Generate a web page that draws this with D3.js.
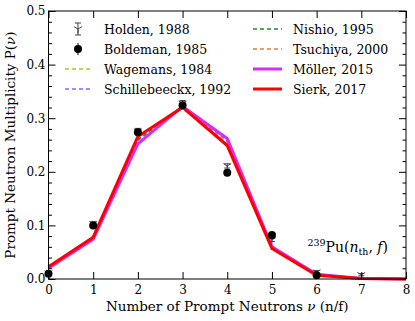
<!DOCTYPE html>
<html><head><meta charset="utf-8">
<script src="https://cdn.jsdelivr.net/npm/d3@7"></script>
<style>body{margin:0;background:#fff}svg{display:block}</style>
</head><body><svg id="c" width="415" height="321"></svg>
<script>
const nu = [0,1,2,3,4,5,6,7,8];
const holdenNu = [0,1,2,3,4,5,6,7];
const holden = [0.011,0.103,0.276,0.328,0.211,0.073,0.013,0.008];
const holdenErr = [0.003,0.004,0.005,0.005,0.004,0.003,0.003,0.002];
const boldemanNu = [0,1,2,3,4,5,6];
const boldeman = [0.010,0.100,0.274,0.324,0.198,0.082,0.007];
const boldemanErr = [0.002,0.003,0.004,0.004,0.004,0.003,0.002];
const wagemans = [0.022,0.077,0.262,0.322,0.255,0.058,0.008,0.001,0];
const schillebeeckx = [0.021,0.076,0.258,0.323,0.258,0.059,0.008,0.001,0];
const nishio = [0.022,0.077,0.260,0.322,0.262,0.058,0.008,0.001,0];
const tsuchiya = [0.023,0.078,0.264,0.322,0.252,0.058,0.008,0.001,0];
const moller = [0.020,0.074,0.252,0.322,0.262,0.060,0.009,0.001,0];
const sierk = [0.023,0.078,0.266,0.320,0.249,0.057,0.007,0.001,0];
const xTicks = [0,1,2,3,4,5,6,7,8];
const yTicks = [0.0,0.1,0.2,0.3,0.4,0.5];

const FF = '"DejaVu Serif"';
function ff(sel,size){return sel.style("font-family",FF).attr("font-family","DejaVu Serif").style("font-size",size+"px").style("fill","#000");}
const svg = d3.select("#c");
const L=48.5,R=406,T=11,B=279;
const x = d3.scaleLinear().domain([0,8]).range([L,R]);
const y = d3.scaleLinear().domain([0,0.5]).range([B,T]);

const line = d3.line().x((d,i)=>x(nu[i])).y(d=>y(d));
const dashed = [
 {data:wagemans,color:"#bcbd22"},
 {data:schillebeeckx,color:"#9a5ef0"},
 {data:nishio,color:"#1f8c1f"},
 {data:tsuchiya,color:"#dd8333"}
];
dashed.forEach(s=>svg.append("path").attr("d",line(s.data)).attr("fill","none")
  .attr("stroke",s.color).attr("stroke-width",1.5).attr("stroke-dasharray","4,3"));
svg.append("path").attr("d",line(moller)).attr("fill","none").attr("stroke","#d42bff").attr("stroke-width",3);
svg.append("path").attr("d",line(sierk)).attr("fill","none").attr("stroke","#ff0000").attr("stroke-width",3);

function triDown(g,cx,cy,r,col){
  const a=0.866*r,b=0.5*r;
  g.append("path").attr("d",`M${cx},${cy}L${cx},${cy+r}M${cx},${cy}L${cx-a},${cy-b}M${cx},${cy}L${cx+a},${cy-b}`)
   .attr("stroke",col).attr("stroke-width",1).attr("fill","none");
}
function errbar(g,cx,y1,y2,col,cap){
  g.append("path").attr("d",`M${cx},${y1}L${cx},${y2}M${cx-cap},${y1}L${cx+cap},${y1}M${cx-cap},${y2}L${cx+cap},${y2}`)
   .attr("stroke",col).attr("stroke-width",1).attr("fill","none");
}
const gp = svg.append("g");
holdenNu.forEach((n,i)=>{
  errbar(gp,x(n),y(holden[i]-holdenErr[i]),y(holden[i]+holdenErr[i]),"#444",3);
  triDown(gp,x(n),y(holden[i]),4.5,"#444");
});
boldemanNu.forEach((n,i)=>{
  errbar(gp,x(n),y(boldeman[i]-boldemanErr[i]),y(boldeman[i]+boldemanErr[i]),"#000",0);
  gp.append("circle").attr("cx",x(n)).attr("cy",y(boldeman[i])).attr("r",4).attr("fill","#000");
});

const ax = svg.append("g");
ax.append("rect").attr("x",L).attr("y",T).attr("width",R-L).attr("height",B-T).attr("fill","none").attr("stroke","#000").attr("stroke-width",1);
const xb = d3.axisBottom(x).tickValues(xTicks).tickSize(-7).tickPadding(6).tickFormat(d3.format("d"));
const xt = d3.axisTop(x).tickValues(xTicks).tickSize(-7).tickFormat("");
const yl = d3.axisLeft(y).tickValues(yTicks).tickSize(-7).tickPadding(3).tickFormat(d3.format(".1f"));
const yr = d3.axisRight(y).tickValues(yTicks).tickSize(-7).tickFormat("");
const minorY = d3.range(0,0.5001,0.02).filter(v=>Math.abs(v*10-Math.round(v*10))>1e-6);
const ylm = d3.axisLeft(y).tickValues(minorY).tickSize(-3.5).tickFormat("");
const yrm = d3.axisRight(y).tickValues(minorY).tickSize(-3.5).tickFormat("");
[[xb,`translate(0,${B})`],[xt,`translate(0,${T})`],[yl,`translate(${L},0)`],[yr,`translate(${R},0)`],[ylm,`translate(${L},0)`],[yrm,`translate(${R},0)`]]
 .forEach(([a,t])=>{const g=ax.append("g").attr("transform",t).call(a);g.select(".domain").remove();
   g.attr("font-family","DejaVu Serif");
   ff(g.selectAll("text"),12);});

const xl = ff(svg.append("text").attr("x",(L+R)/2).attr("y",311).attr("text-anchor","middle"),13.5);
xl.append("tspan").text("Number of Prompt Neutrons ");
ff(xl.append("tspan"),13.5).style("font-style","italic").text("ν");
ff(xl.append("tspan"),13.5).text(" (n/f)");
const ylb = ff(svg.append("text").attr("transform",`translate(15,${(T+B)/2}) rotate(-90)`).attr("text-anchor","middle"),13.5);
ylb.append("tspan").text("Prompt Neutron Multiplicity P(");
ff(ylb.append("tspan"),13.5).style("font-style","italic").text("ν");
ff(ylb.append("tspan"),13.5).text(")");
const an = ff(svg.append("text").attr("x",388).attr("y",252).attr("text-anchor","end"),14);
ff(an.append("tspan"),9.5).attr("dy",-6).text("239");
ff(an.append("tspan"),14).attr("dy",6).text("Pu(");
ff(an.append("tspan"),14).style("font-style","italic").text("n");
ff(an.append("tspan"),9.5).attr("dy",3).text("th");
ff(an.append("tspan"),14).attr("dy",-3).text(", ");
ff(an.append("tspan"),14).style("font-style","italic").text("f");
ff(an.append("tspan"),14).text(")");

const lg = svg.append("g");
const rows=[29,49,69,89];
const c1 = [
 {t:"Holden, 1988",k:"h"},{t:"Boldeman, 1985",k:"b"},
 {t:"Wagemans, 1984",k:"d",c:"#bcbd22"},{t:"Schillebeeckx, 1992",k:"d",c:"#9a5ef0"}];
const c2 = [
 {t:"Nishio, 1995",k:"d",c:"#1f8c1f"},{t:"Tsuchiya, 2000",k:"d",c:"#dd8333"},
 {t:"Möller, 2015",k:"s",c:"#d42bff"},{t:"Sierk, 2017",k:"s",c:"#ff0000"}];
function entry(e,yy,x0,x1,tx){
  if(e.k==="h"){errbar(lg,(x0+x1)/2,yy+6,yy-6,"#444",3);triDown(lg,(x0+x1)/2,yy,4.5,"#444");}
  else if(e.k==="b"){errbar(lg,(x0+x1)/2,yy+6,yy-6,"#000",0);lg.append("circle").attr("cx",(x0+x1)/2).attr("cy",yy).attr("r",4).attr("fill","#000");}
  else lg.append("line").attr("x1",x0).attr("x2",x1).attr("y1",yy).attr("y2",yy).attr("stroke",e.c)
     .attr("stroke-width",e.k==="s"?3:1.5).attr("stroke-dasharray",e.k==="d"?"4,3":null);
  ff(lg.append("text").attr("x",tx).attr("y",yy+5),12.5).text(e.t);
}
c1.forEach((e,i)=>entry(e,rows[i],65,91,104));
c2.forEach((e,i)=>entry(e,rows[i],253,282,293));
</script></body></html>
